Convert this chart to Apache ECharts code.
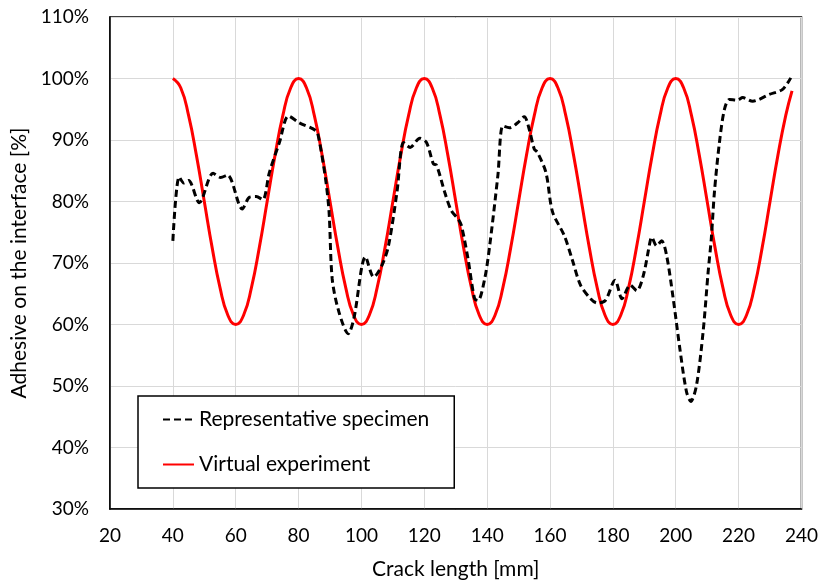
<!DOCTYPE html>
<html>
<head>
<meta charset="utf-8">
<script src="https://cdn.jsdelivr.net/npm/echarts@6/dist/echarts.min.js"></script>
<style>
  html, body { margin: 0; padding: 0; background: #fff; }
  #chart { width: 821px; height: 585px; }
</style>
</head>
<body>
<div id="chart"></div>
<script>
// crack length [mm] / adhesive on interface [%]
const specimenX = [40, 42, 43.5, 45, 48.4, 52.8, 55.2, 57.4, 62.1, 64.4, 66.5, 68.6, 70.7, 73.9, 76.8,
  80.2, 85.5, 86.5, 88.6, 89.7, 90.7, 92.8, 95.8, 97.6, 101.3, 103.9, 106.5, 108.6, 111.3, 113.4,
  115.5, 118.6, 120.7, 122.9, 123.9, 126.5, 128.6, 130.7, 131.8, 133.9, 136, 137.1, 139.2, 140.8,
  143.4, 145, 147.1, 149.7, 151.8, 153.4, 155, 156, 158.7, 160.8, 164.5, 167.1, 169.7, 172.9, 175,
  177.6, 180.7, 182.9, 185.5, 187.6, 189.7, 191.8, 192.3, 193.9, 195.5, 197.1, 199.2, 201.3, 203.4,
  204.8, 206.6, 208.7, 210.3, 211.3, 212.3, 213.9, 215.5, 217.1, 219.7, 221.3, 224.5, 226.5, 229.7,
  233.9, 236.6];
const specimenY = [73.6, 84, 83, 83.4, 79.8, 84.6, 83.9, 84.3, 78.8, 80.7, 80.8, 80.3, 84.7, 89.6, 93.9,
  92.8, 91.5, 90.1, 83.6, 78.3, 67.4, 62.1, 58.5, 61, 71, 67.7, 69.6, 72.8, 81.5, 89.6,
  88.8, 90.3, 89.6, 86.1, 85.9, 81.5, 78.5, 77.2, 76.1, 70.7, 64.2, 63.9, 67.4, 72.8,
  84.2, 92.3, 92, 92.8, 93.8, 91.7, 88.5, 88, 84.7, 78.3, 74.5, 70.5, 66.4, 64.2, 63.5,
  63.9, 67.2, 64.2, 66.4, 65.5, 68, 73.4, 74.2, 72.8, 73.6, 71.2, 64.2, 56.1, 49.1,
  47.5, 50.1, 58.8, 68.5, 73.9, 81.5, 89.6, 95, 96.6, 96.5, 96.9, 96.3, 96.6, 97.4,
  98.2, 100.1];

const virtualX = [40, 42.5, 45, 47.5, 50, 52.5, 55, 57.5, 60, 62.5, 65, 67.5, 70, 72.5, 75, 77.5,
  80, 82.5, 85, 87.5, 90, 92.5, 95, 97.5, 100, 102.5, 105, 107.5, 110, 112.5, 115, 117.5,
  120, 122.5, 125, 127.5, 130, 132.5, 135, 137.5, 140, 142.5, 145, 147.5, 150, 152.5, 155, 157.5,
  160, 162.5, 165, 167.5, 170, 172.5, 175, 177.5, 180, 182.5, 185, 187.5, 190, 192.5, 195, 197.5,
  200, 202.5, 205, 207.5, 210, 212.5, 215, 217.5, 220, 222.5, 225, 227.5, 230, 232.5, 235, 237];
const virtualY = [100, 98.5, 94, 87.5, 80, 72.5, 66, 61.5, 60, 61.5, 66, 72.5, 80, 87.5, 94, 98.5,
  100, 98.5, 94, 87.5, 80, 72.5, 66, 61.5, 60, 61.5, 66, 72.5, 80, 87.5, 94, 98.5,
  100, 98.5, 94, 87.5, 80, 72.5, 66, 61.5, 60, 61.5, 66, 72.5, 80, 87.5, 94, 98.5,
  100, 98.5, 94, 87.5, 80, 72.5, 66, 61.5, 60, 61.5, 66, 72.5, 80, 87.5, 94, 98.5,
  100, 98.5, 94, 87.5, 80, 72.5, 66, 61.5, 60, 61.5, 66, 72.5, 80, 87.5, 94, 98];

const seriesNames = ['Representative specimen', 'Virtual experiment'];

const zip = (xs, ys) => xs.map((x, i) => [x, ys[i]]);

const font = 'Lato, "Open Sans", sans-serif';
const textColor = '#000';

var myChart = echarts.init(document.getElementById('chart'));
var option = {
    animation: false,
    backgroundColor: '#fff',
    grid: {
        left: 110,
        right: 15,
        top: 17,
        bottom: 74,
        show: true,
        borderColor: '#000',
        borderWidth: 1.5
    },
    legend: {
        orient: 'vertical',
        left: 138,
        top: 396,
        data: seriesNames,
        backgroundColor: '#fff',
        borderColor: '#000',
        borderWidth: 1.5,
        borderRadius: 0,
        padding: [13, 25, 13, 24],
        itemWidth: 31,
        itemHeight: 14,
        itemGap: 24,
        itemStyle: {opacity: 0},
        textStyle: {
            fontFamily: font,
            fontSize: 21,
            color: textColor,
            lineHeight: 20
        }
    },
    xAxis: {
        type: 'value',
        min: 20,
        max: 240,
        interval: 20,
        name: 'Crack length [mm]',
        nameLocation: 'middle',
        nameGap: 50,
        nameTextStyle: {fontFamily: font, fontSize: 21, color: textColor},
        axisLine: {lineStyle: {color: '#000', width: 1.5}},
        axisTick: {show: false},
        axisLabel: {fontFamily: font, fontSize: 19, color: textColor, margin: 17},
        splitLine: {show: true, lineStyle: {color: '#d9d9d9', width: 1}}
    },
    yAxis: {
        type: 'value',
        min: 30,
        max: 110,
        interval: 10,
        name: 'Adhesive on the interface [%]',
        nameLocation: 'middle',
        nameGap: 79,
        nameTextStyle: {fontFamily: font, fontSize: 21, color: textColor},
        axisLine: {show: true, lineStyle: {color: '#000', width: 1.5}},
        axisTick: {show: false},
        axisLabel: {fontFamily: font, fontSize: 19, color: textColor, margin: 21, formatter: '{value}%'},
        splitLine: {show: true, lineStyle: {color: '#d9d9d9', width: 1}}
    },
    series: [
        {
            name: seriesNames[0],
            type: 'line',
            data: zip(specimenX, specimenY),
            showSymbol: false,
            symbol: 'none',
            smooth: 0.3,
            lineStyle: {color: '#000', width: 3, type: [7, 4]},
            itemStyle: {color: '#000'},
            z: 3
        },
        {
            name: seriesNames[1],
            type: 'line',
            data: zip(virtualX, virtualY),
            showSymbol: false,
            symbol: 'none',
            smooth: true,
            lineStyle: {color: '#ff0000', width: 3},
            itemStyle: {color: '#ff0000'},
            z: 2
        }
    ]
};
myChart.setOption(option);
</script>
</body>
</html>
